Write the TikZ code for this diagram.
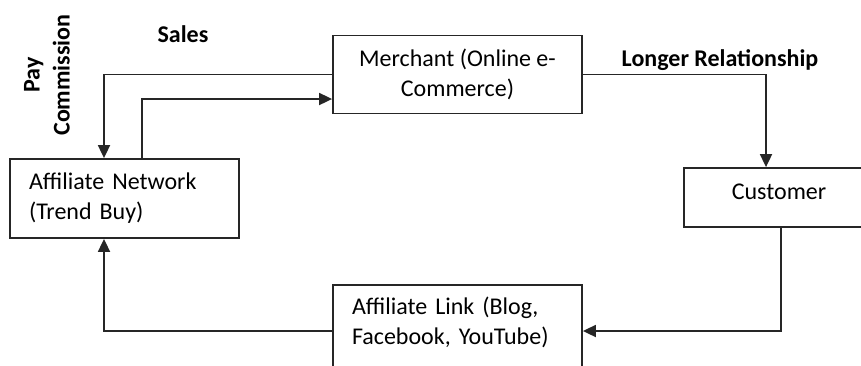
\documentclass[tikz,border=0pt]{standalone}
\usepackage{fontspec}
\setmainfont{Carlito}
\usepackage{tikz}
\usetikzlibrary{calc,arrows.meta}

\begin{document}
\begin{tikzpicture}[x = 0.5pt, y = -0.5pt,
    boxed/.style   = { draw=black!85, line width=0.9pt, inner xsep=9.5pt },
    heading/.style = { font=\fontsize{12}{15}\selectfont\bfseries },
    flow/.style    = { draw=black!85, line width=0.9pt, -{Triangle[length=6.5pt, width=6pt]} }]
  \tikzset{every node/.style={font=\fontsize{12}{15}\selectfont}}
  \useasboundingbox (0,0) rectangle (861,365);
  \clip (0,0) rectangle (861,365);

  \node [boxed, align=center, minimum width=124.5pt, minimum height=39pt]
    (merchant) at (457.5,74.5) {Merchant (Online e-\\Commerce)};
  \node [boxed, minimum width=95pt, minimum height=29.5pt, text depth=5.5pt]
    (customer) at (779,197.5) {Customer};
  \node [boxed, align=left, text width=95.5pt, minimum height=39.5pt]
    (network) at (124.5,198.5) {Affiliate Network\\(Trend Buy)};
  \node [boxed, align=left, text width=105.5pt, inner ysep=0pt,
         text height=15pt, text depth=40pt, anchor=north]
    (link) at (457.5,284) {Affiliate Link (Blog,\\Facebook, YouTube)};

  \node [heading] (sales) at (183,34) {Sales};
  \node [heading] (longer) at (720,60) {Longer Relationship};
  \node [heading, rotate=90, align=center] (commission) at (47,75) {Pay\\Commission};

  \draw [flow] (merchant.west) -| ($(network.north)+(-20.5,0)$);
  \draw [flow] ($(network.north)+(17.5,0)$) |- ($(merchant.west)+(0,24.5)$);
  \draw [flow] (merchant.east) -| ($(customer.north)+(-13,0)$);
  \draw [flow] ($(customer.south)+(2,0)$) |- ($(link.north east)+(0,47)$);
  \draw [flow] ($(link.north west)+(0,47)$) -| ($(network.south)+(-20.5,0)$);
\end{tikzpicture}
\end{document}
